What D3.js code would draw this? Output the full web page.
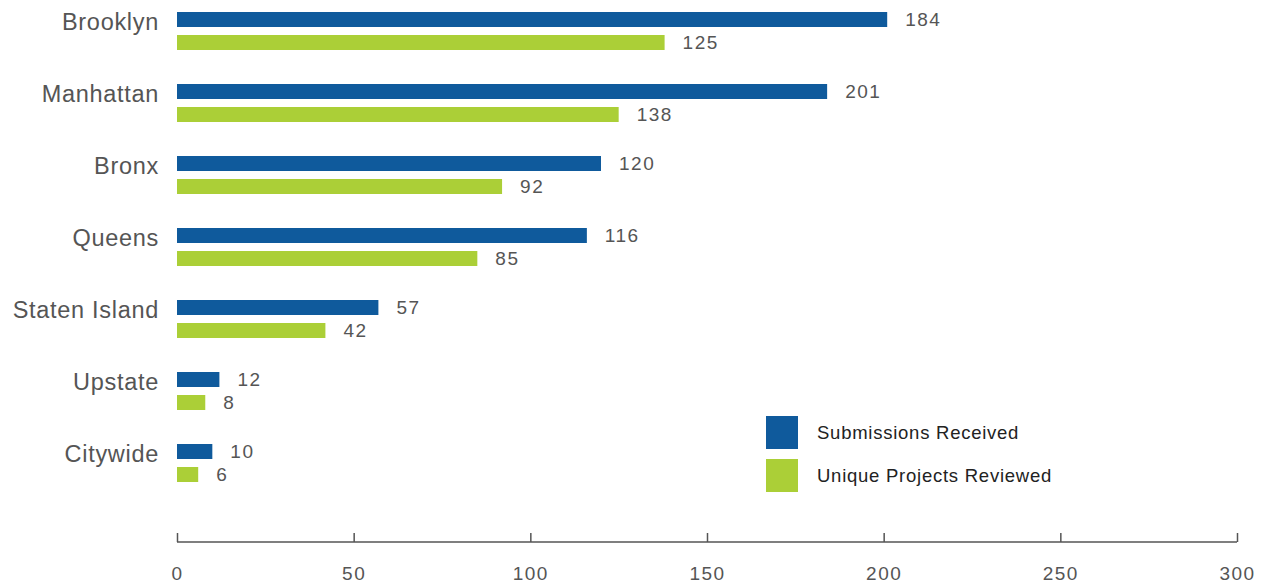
<!DOCTYPE html>
<html><head><meta charset="utf-8">
<script src="https://cdn.jsdelivr.net/npm/d3@7"></script>
<style>
html,body{margin:0;padding:0;background:#fff;}
svg{display:block;}
</style></head>
<body>
<svg id="chart" width="1273" height="588"></svg>
<script>
const categories = ["Brooklyn","Manhattan","Bronx","Queens","Staten Island","Upstate","Citywide"];
const submissions = [201,184,120,116,57,12,10];
const reviewed = [138,125,92,85,42,8,6];
const submissionLabels = ["184","201","120","116","57","12","10"];
const reviewedLabels = ["125","138","92","85","42","8","6"];
const seriesNames = ["Submissions Received","Unique Projects Reviewed"];
const tickValues = [0,50,100,150,200,250,300];

const colors = ["#0f5a9c","#abcf37"];
const svg = d3.select("#chart");
const x = d3.scaleLinear().domain([0,300]).range([177,1237]);
const y = d3.scaleBand().domain(categories).range([12,516]).paddingInner(0).paddingOuter(0);
const barH = 15, gap = 8;
const font = "'Liberation Sans', Arial, sans-serif";

const g = svg.append("g");
categories.forEach((c,i)=>{
  const y0 = y(c);
  const rows = [
    {v:submissions[i], lab:submissionLabels[i], col:colors[0], yy:y0},
    {v:reviewed[i], lab:reviewedLabels[i], col:colors[1], yy:y0+barH+gap}
  ];
  rows.forEach(r=>{
    g.append("rect").attr("x",x(0)).attr("y",r.yy).attr("width",x(r.v)-x(0)).attr("height",barH).attr("fill",r.col);
    g.append("text").attr("x",x(r.v)+18).attr("y",r.yy+barH/2).attr("dy","0.36em")
      .attr("font-family",font).attr("font-size",19).attr("letter-spacing","1.5px").attr("fill","#555").text(r.lab);
  });
  g.append("text").attr("x",159).attr("y",y0+barH/2+2).attr("dy","0.36em").attr("text-anchor","end")
    .attr("font-family",font).attr("font-size",23.5).attr("letter-spacing","0.7px").attr("fill","#555").text(c);
});

// axis
const axis = d3.axisBottom(x).tickValues(tickValues).tickSize(0).tickPadding(0);
const ax = svg.append("g").attr("transform","translate(0,542)").call(axis);
ax.select(".domain").attr("stroke","#555").attr("stroke-width",1.5).attr("d",`M${x(0)},0H${x(300)}`);
ax.selectAll(".tick line").remove();
ax.selectAll(".tick").append("line").attr("y1",0).attr("y2",-9).attr("stroke","#555").attr("stroke-width",1.5);
ax.selectAll(".tick text").attr("y",31).attr("dy","0.36em").attr("font-family",font).attr("font-size",19)
  .attr("letter-spacing","1.5px").attr("fill","#555");

// legend
const leg = svg.append("g");
seriesNames.forEach((s,i)=>{
  const ly = 416 + i*43;
  leg.append("rect").attr("x",766).attr("y",ly).attr("width",32).attr("height",33).attr("fill",colors[i]);
  leg.append("text").attr("x",817).attr("y",ly+16).attr("dy","0.36em").attr("font-family",font)
    .attr("font-size",18.5).attr("letter-spacing","0.75px").attr("fill","#222").text(s);
});
</script>
</body></html>
